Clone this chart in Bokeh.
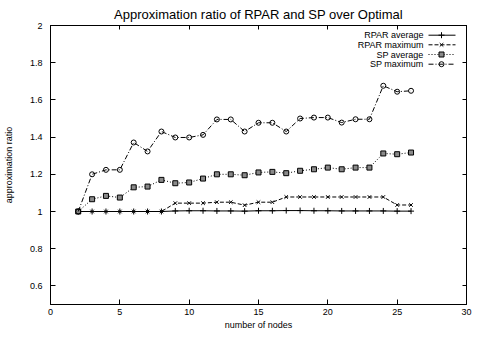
from bokeh.plotting import figure
from bokeh.models import LinearAxis, FixedTicker, CustomJSTickFormatter, Range1d
from bokeh.core.properties import value
from bokeh.embed import file_html
from bokeh.resources import INLINE

# ---------------- data ----------------
nodes = list(range(2, 27))
rpar_average = [1.0, 1.0, 1.0, 1.0, 1.0, 1.0, 1.0, 1.003, 1.004, 1.004, 1.003, 1.003,
                1.002, 1.004, 1.004, 1.005, 1.005, 1.004, 1.004, 1.003, 1.003, 1.003,
                1.003, 1.002, 1.002]
rpar_maximum = [1.0, 1.0, 1.0, 1.0, 1.0, 1.0, 1.0, 1.045, 1.045, 1.045, 1.05, 1.05,
                1.034, 1.05, 1.05, 1.078, 1.078, 1.078, 1.078, 1.078, 1.078, 1.078,
                1.078, 1.035, 1.035]
sp_average = [1.0, 1.066, 1.084, 1.075, 1.13, 1.134, 1.17, 1.152, 1.156, 1.177, 1.20,
              1.20, 1.195, 1.21, 1.213, 1.206, 1.219, 1.227, 1.236, 1.227, 1.236,
              1.236, 1.312, 1.308, 1.317]
sp_maximum = [1.0, 1.20, 1.224, 1.224, 1.371, 1.323, 1.43, 1.398, 1.398, 1.412, 1.495,
              1.495, 1.43, 1.477, 1.477, 1.43, 1.50, 1.505, 1.505, 1.478, 1.496,
              1.496, 1.676, 1.644, 1.649]
series_names = ["RPAR average", "RPAR maximum", "SP average", "SP maximum"]
x_ticks = [0, 5, 10, 15, 20, 25, 30]
y_ticks = [0.6, 0.8, 1.0, 1.2, 1.4, 1.6, 1.8, 2.0]

# ---------------- styling ----------------
FONT = "Liberation Sans"
FW, FH = 416, 279
X0, X1, Y0, Y1 = 0, 30, 0.5, 2.0

p = figure(frame_width=FW, frame_height=FH, output_backend="svg", toolbar_location=None,
           x_range=Range1d(X0, X1), y_range=Range1d(Y0, Y1),
           min_border_left=47, min_border_top=25, min_border_right=8, min_border_bottom=28,
           title="Approximation ratio of RPAR and SP over Optimal")
p.background_fill_color = "white"
p.border_fill_color = "white"
p.outline_line_color = "black"
p.outline_line_width = 1
p.xgrid.visible = False
p.ygrid.visible = False

p.title.align = "center"
p.title.text_font = FONT
p.title.text_font_size = "13px"
p.title.text_font_style = "normal"
p.title.text_color = "black"
p.title.standoff = 8

fmt = CustomJSTickFormatter(code="return String(Math.round(tick*10)/10);")

for ax in (p.xaxis[0], p.yaxis[0]):
    ax.major_tick_in = 5
    ax.major_tick_out = 0
    ax.minor_tick_line_color = None
    ax.major_label_text_font = FONT
    ax.major_label_text_font_size = "9px"
    ax.major_label_text_color = "black"
    ax.axis_label_text_font = FONT
    ax.axis_label_text_font_size = "9px"
    ax.axis_label_text_font_style = "normal"
    ax.axis_label_text_color = "black"
    ax.axis_line_color = "black"
    ax.formatter = fmt

p.xaxis[0].ticker = FixedTicker(ticks=x_ticks)
p.yaxis[0].ticker = FixedTicker(ticks=y_ticks)
p.xaxis[0].axis_label = "number of nodes"
p.yaxis[0].axis_label = "approximation ratio"
p.xaxis[0].major_label_standoff = 4
p.xaxis[0].axis_label_standoff = 2
p.yaxis[0].major_label_standoff = 8
p.yaxis[0].axis_label_standoff = 13

# mirrored tick marks on top and right (gnuplot style), labels not painted
top_axis = LinearAxis(ticker=FixedTicker(ticks=x_ticks), major_label_text_font_size="1px",
                      major_label_text_color=None, axis_label_text_color=None,
                      major_tick_in=4, major_tick_out=0, minor_tick_line_color=None,
                      major_label_standoff=0, axis_line_color="black")
right_axis = LinearAxis(ticker=FixedTicker(ticks=y_ticks), major_label_text_font_size="1px",
                        major_label_text_color=None, axis_label_text_color=None,
                        major_tick_in=4, major_tick_out=0, minor_tick_line_color=None,
                        major_label_standoff=0, axis_line_color="black")
p.add_layout(top_axis, "above")
p.add_layout(right_axis, "right")

# series styles: (values, dash, marker, size)
styles = [
    (rpar_average, "solid", "cross", 6),
    (rpar_maximum, "4 2", "x", 5),
    (sp_average, "1 2", "square", 5),
    (sp_maximum, "5 2 1 2", "circle", 5),
]


def draw_marker(xs, ys, marker, size):
    if marker == "square":
        p.scatter(xs, ys, marker=marker, size=size, line_color="black", fill_color="#8a8a8a")
    elif marker == "circle":
        p.scatter(xs, ys, marker=marker, size=size, line_color="black", fill_color=None)
    else:
        p.scatter(xs, ys, marker=marker, size=size, line_color="black")


for vals, dash, marker, size in styles:
    p.line(nodes, vals, line_color="black", line_width=1, line_dash=dash)
    draw_marker(nodes, vals, marker, size)

# ---------------- legend (text left, sample right, like gnuplot) ----------------
def px_to_x(px):
    return X0 + px / FW * (X1 - X0)


def py_to_y(py):
    return Y1 - py / FH * (Y1 - Y0)


row_px = [9.7, 19.3, 29.0, 38.7]
text_x = px_to_x(373)
samp_x0, samp_x1, mark_x = px_to_x(378), px_to_x(405), px_to_x(391)
row_y = [py_to_y(r) for r in row_px]

p.text(x=[text_x] * 4, y=row_y, text=series_names, text_font=value(FONT),
       text_font_size="9px", text_align="right", text_baseline="middle", text_color="black")
for (vals, dash, marker, size), yy in zip(styles, row_y):
    p.line([samp_x0, samp_x1], [yy, yy], line_color="black", line_width=1, line_dash=dash)
    draw_marker([mark_x], [yy], marker, size)

open("out.html", "w").write(file_html(p, INLINE))
